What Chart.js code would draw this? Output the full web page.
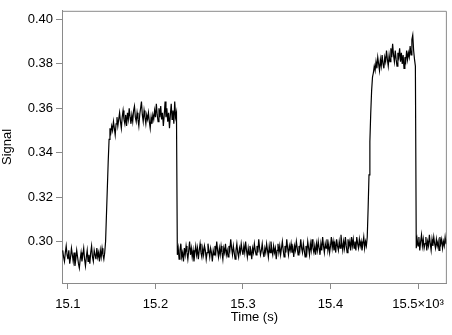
<!DOCTYPE html>
<html>
<head>
<meta charset="utf-8">
<script src="https://cdn.jsdelivr.net/npm/chart.js@4"></script>
<style>
  body { margin: 0; background: #fff; }
  #wrap { width: 452px; height: 335px; }
</style>
</head>
<body>
<div id="wrap"><canvas id="signalChart"></canvas></div>
<script>
// sample grid (x10^3 s)
const t0 = 15.094;
const dt = 0.001;

// signal
const baseA = [
  0.296, 0.293, 0.291, 0.295, 0.298, 0.294, 0.292, 0.296, 0.290, 0.293,
  0.297, 0.294, 0.291, 0.295, 0.289, 0.292, 0.296, 0.293, 0.290, 0.288,
  0.292, 0.295, 0.291, 0.294, 0.297, 0.292, 0.289, 0.293, 0.296, 0.291,
  0.294, 0.290, 0.295, 0.298, 0.293, 0.291, 0.296, 0.294, 0.292, 0.297,
  0.293, 0.295, 0.291, 0.296, 0.293, 0.297, 0.294, 0.292, 0.295];
const riseA = [0.300, 0.312, 0.324, 0.336, 0.346, 0.351];
const highA = [
  0.349, 0.352, 0.350, 0.354, 0.351, 0.348, 0.353, 0.356, 0.352, 0.355,
  0.358, 0.354, 0.351, 0.356, 0.359, 0.355, 0.353, 0.357, 0.352, 0.358,
  0.355, 0.360, 0.356, 0.353, 0.357, 0.354, 0.359, 0.361, 0.356, 0.354,
  0.358, 0.355, 0.352, 0.357, 0.360, 0.363, 0.357, 0.354, 0.359, 0.356,
  0.353, 0.357, 0.355, 0.358, 0.354, 0.351, 0.356, 0.353, 0.357, 0.355,
  0.359, 0.356, 0.362, 0.357, 0.354, 0.360, 0.356, 0.361, 0.355, 0.358,
  0.352, 0.357, 0.363, 0.356, 0.360, 0.354, 0.358, 0.351, 0.357, 0.362,
  0.355, 0.359, 0.353, 0.363, 0.356, 0.358];
const baseB = [
  0.294, 0.297, 0.292, 0.296, 0.299, 0.293, 0.295, 0.291, 0.297, 0.294,
  0.298, 0.295, 0.292, 0.296, 0.300, 0.294, 0.297, 0.293, 0.296, 0.291,
  0.295, 0.298, 0.294, 0.297, 0.292, 0.296, 0.299, 0.295, 0.293, 0.297,
  0.294, 0.298, 0.296, 0.292, 0.295, 0.299, 0.296, 0.293, 0.297, 0.295,
  0.291, 0.296, 0.294, 0.298, 0.295, 0.300, 0.296, 0.293, 0.297, 0.294,
  0.298, 0.295, 0.292, 0.297, 0.295, 0.299, 0.294, 0.296, 0.293, 0.298,
  0.296, 0.301, 0.297, 0.294, 0.298, 0.295, 0.292, 0.296, 0.299, 0.295,
  0.293, 0.297, 0.295, 0.299, 0.296, 0.294, 0.298, 0.295, 0.300, 0.296,
  0.293, 0.297, 0.294, 0.298, 0.296, 0.292, 0.297, 0.295, 0.299, 0.296,
  0.294, 0.298, 0.295, 0.301, 0.297, 0.294, 0.296, 0.299, 0.295, 0.293,
  0.297, 0.295, 0.299, 0.296, 0.293, 0.298, 0.295, 0.300, 0.296, 0.294,
  0.298, 0.295, 0.297, 0.292, 0.296, 0.299, 0.295, 0.298, 0.294, 0.297,
  0.300, 0.296, 0.293, 0.298, 0.295, 0.301, 0.297, 0.294, 0.298, 0.296,
  0.299, 0.295, 0.297, 0.293, 0.298, 0.296, 0.300, 0.297, 0.294, 0.298,
  0.296, 0.301, 0.297, 0.295, 0.299, 0.296, 0.293, 0.298, 0.295, 0.300,
  0.297, 0.294, 0.299, 0.296, 0.301, 0.297, 0.295, 0.298, 0.294, 0.299,
  0.296, 0.300, 0.297, 0.294, 0.299, 0.296, 0.302, 0.298, 0.295, 0.299,
  0.297, 0.301, 0.296, 0.299, 0.295, 0.298, 0.302, 0.297, 0.300, 0.296,
  0.299, 0.295, 0.301, 0.298, 0.296, 0.300, 0.297, 0.303, 0.299, 0.296,
  0.300, 0.297, 0.302, 0.298, 0.295, 0.301, 0.298, 0.300, 0.296, 0.302,
  0.298, 0.301, 0.297, 0.300, 0.296, 0.302, 0.299, 0.297, 0.301, 0.298,
  0.300, 0.296, 0.299, 0.302, 0.297, 0.300, 0.298];
const riseB = [0.302, 0.315, 0.330, 0.345, 0.358, 0.368, 0.374];
const highB = [
  0.376, 0.379, 0.377, 0.381, 0.378, 0.383, 0.380, 0.377, 0.382, 0.379,
  0.384, 0.380, 0.378, 0.383, 0.381, 0.386, 0.382, 0.379, 0.384, 0.381,
  0.387, 0.383, 0.389, 0.384, 0.381, 0.386, 0.382, 0.379, 0.385, 0.383,
  0.387, 0.381, 0.385, 0.380, 0.384, 0.378, 0.383, 0.381, 0.386, 0.382,
  0.385, 0.383, 0.388, 0.384, 0.391, 0.393, 0.386, 0.382, 0.379];
const baseC = [
  0.297, 0.301, 0.298, 0.302, 0.296, 0.300, 0.303, 0.298, 0.301, 0.297,
  0.299, 0.302, 0.296, 0.300, 0.298, 0.303, 0.299, 0.296, 0.301, 0.298,
  0.302, 0.299, 0.297, 0.301, 0.298, 0.300, 0.296, 0.302, 0.299, 0.301,
  0.297, 0.300, 0.298, 0.302, 0.299, 0.301, 0.300];

const xTicks = [15.1, 15.2, 15.3, 15.4, 15.5];
const yTicks = [0.30, 0.32, 0.34, 0.36, 0.38, 0.40];

const signal = [].concat(baseA, riseA, highA, baseB, riseB, highB, baseC);
const points = signal.map((v, i) => ({ x: t0 + i * dt, y: v }));

const axisGray = '#8a8a8a';
const font = { family: '"Liberation Sans", Arial, sans-serif', size: 13 };

// box around the plot area (top and right sides)
const frame = {
  id: 'frame',
  afterDraw(chart) {
    const a = chart.chartArea;
    const ctx = chart.ctx;
    ctx.save();
    ctx.strokeStyle = axisGray;
    ctx.lineWidth = 1;
    ctx.beginPath();
    ctx.moveTo(a.left, a.top + 0.5);
    ctx.lineTo(a.right - 0.5, a.top + 0.5);
    ctx.lineTo(a.right - 0.5, a.bottom);
    ctx.stroke();
    ctx.restore();
  }
};

new Chart(document.getElementById('signalChart'), {
  type: 'line',
  data: {
    datasets: [{
      data: points,
      borderColor: '#000',
      borderWidth: 1.2,
      pointRadius: 0,
      tension: 0
    }]
  },
  options: {
    responsive: true,
    maintainAspectRatio: false,
    animation: false,
    layout: { padding: { top: 1, right: 2, left: 0, bottom: 6 } },
    plugins: { legend: { display: false }, tooltip: { enabled: false } },
    scales: {
      x: {
        type: 'linear',
        min: 15.0932,
        max: 15.533,
        afterFit: (s) => { s.height = 46; },
        afterBuildTicks: (s) => { s.ticks = xTicks.map(v => ({ value: v })); },
        border: { color: axisGray },
        grid: { drawOnChartArea: false, color: axisGray, tickLength: 6 },
        ticks: {
          color: '#000', font: font, padding: 8, maxRotation: 0,
          callback: (v) => v === 15.5 ? '15.5×10³' : v.toFixed(1)
        },
        title: { display: true, text: 'Time (s)', color: '#000', font: font, padding: { top: 0 } }
      },
      y: {
        min: 0.2813,
        max: 0.4039,
        afterFit: (s) => { s.width = 62; },
        afterBuildTicks: (s) => { s.ticks = yTicks.map(v => ({ value: v })); },
        border: { color: axisGray },
        grid: { drawOnChartArea: false, color: axisGray, tickLength: 6 },
        ticks: { color: '#000', font: font, padding: 3, callback: (v) => v.toFixed(2) },
        title: { display: true, text: 'Signal', color: '#000', font: font, padding: { top: 0, bottom: 2 } }
      }
    }
  },
  plugins: [frame]
});
</script>
</body>
</html>
